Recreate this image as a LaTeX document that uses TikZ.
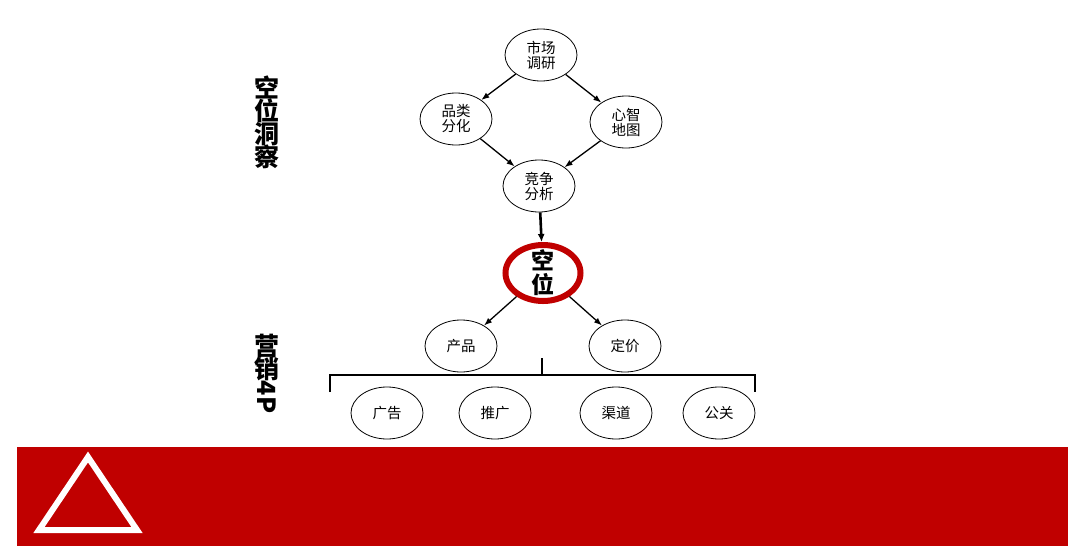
\documentclass[tikz,border=0pt]{standalone}
\usepackage{fontspec}
\setmainfont{Noto Sans CJK SC}
\usepackage{tikz}
\usetikzlibrary{shapes.geometric, arrows.meta}
\definecolor{darkred}{RGB}{192,0,0}

\begin{document}
\begin{tikzpicture}[x=1pt, y=-1pt,
  bubble/.style={draw, ellipse, line width=0.8pt, minimum width=72pt, minimum height=52pt, inner sep=0pt, align=center, font=\fontsize{14.5}{15}\selectfont},
  link/.style={-{Latex[length=8pt,width=6pt]}, line width=1.3pt},
  sidetitle/.style={font=\fontsize{25}{27}\selectfont\bfseries, align=center}]
\useasboundingbox (0,0) rectangle (1080,558);
% red band at the bottom
\fill [darkred] (17,447) rectangle (1068,546);
\draw [white, line width=6pt, line join=miter] (88,457) -- (39,530) -- (137,530) -- cycle;
% side titles
\node (insight) at (267,122) [sidetitle] {空\\[-4pt]位\\[-4pt]洞\\[-4pt]察};
\node (mkt) at (267,358) [sidetitle] {营\\[-4pt]销};
\node (fourp) at (267,397) [font=\fontsize{25}{27}\selectfont\bfseries, rotate=-90] {4P};
% upper diamond
\node (survey) at (541,55) [bubble] {市场\\调研};
\node (category) at (456,119) [bubble] {品类\\分化};
\node (mindmap) at (626,122) [bubble] {心智\\地图};
\node (compete) at (539,186) [bubble] {竞争\\分析};
\node (gap) at (543,273) [draw=darkred, line width=6pt, ellipse, minimum width=75pt, minimum height=56pt, inner sep=0pt] {};
\node (gaptext) at (gap.center) [align=center, inner sep=0pt, font=\fontsize{23}{24}\selectfont\bfseries] {空\\位};
% 4P
\node (product) at (461,346) [bubble] {产品};
\node (price) at (625,346) [bubble] {定价};
\node (ads) at (387,413) [bubble] {广告};
\node (promo) at (495,413) [bubble] {推广};
\node (channel) at (616,413) [bubble] {渠道};
\node (pr) at (719,413) [bubble] {公关};
\draw [link] (survey) -- (category);
\draw [link] (survey) -- (mindmap);
\draw [link] (category) -- (compete);
\draw [link] (mindmap) -- (compete);
\draw [-{Latex[length=8pt,width=7pt]}, line width=2.6pt] (compete) -- (gap);
\draw [link] (gap) -- (product);
\draw [link] (gap) -- (price);
% bracket
\coordinate (stem) at (542,358);
\draw [line width=1.6pt] (stem) -- (542,375);
\draw [line width=1.6pt] (330,392) -- (330,375) -- (755,375) -- (755,392);
\end{tikzpicture}
\end{document}
